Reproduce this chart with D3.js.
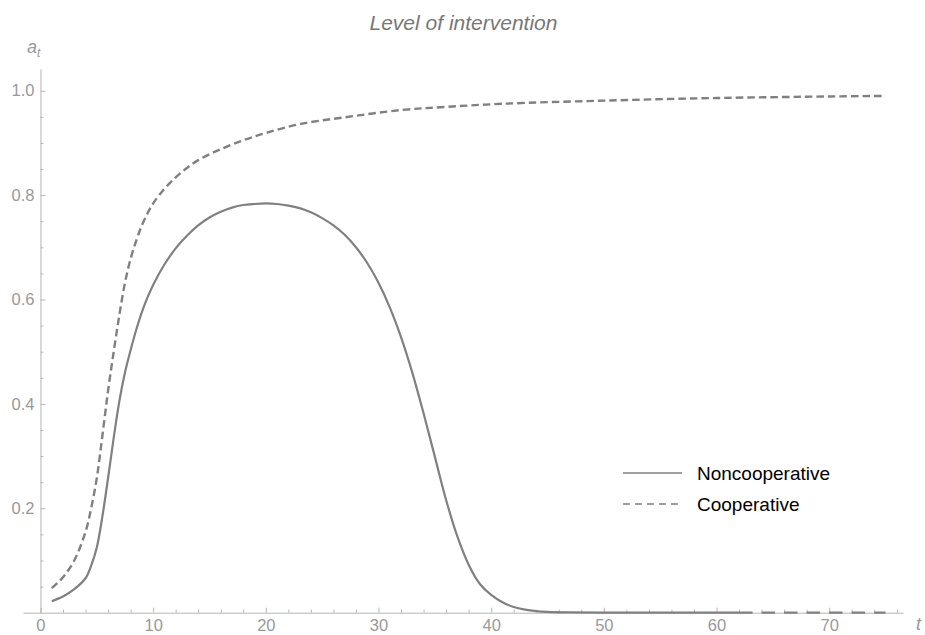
<!DOCTYPE html>
<html>
<head>
<meta charset="utf-8">
<script src="https://cdn.jsdelivr.net/npm/d3@7"></script>
<style>
  body { margin: 0; background: #fff; }
  svg { display: block; font-family: "Liberation Sans", Arial, sans-serif; }
</style>
</head>
<body>
<script>
// values
var tNon = [1, 2, 3, 4, 4.5, 5, 5.5, 6, 6.5, 7, 7.5, 8, 8.5, 9, 9.5, 10, 11, 12, 13, 14, 15, 16, 17, 18, 19, 20, 21, 22, 23, 24, 25, 26, 27, 28, 29, 30, 31, 32, 33, 34, 35, 36, 37, 38, 39, 40, 41, 42, 43, 44, 45, 47, 50, 55, 62];
var aNon = [0.022, 0.031, 0.045, 0.066, 0.09, 0.125, 0.185, 0.258, 0.335, 0.405, 0.46, 0.503, 0.542, 0.576, 0.604, 0.628, 0.667, 0.698, 0.722, 0.742, 0.757, 0.768, 0.776, 0.781, 0.783, 0.784, 0.783, 0.780, 0.775, 0.767, 0.756, 0.742, 0.724, 0.70, 0.67, 0.632, 0.585, 0.528, 0.46, 0.382, 0.299, 0.216, 0.146, 0.092, 0.055, 0.034, 0.02, 0.011, 0.006, 0.003, 0.0015, 0.0005, 0, 0, 0];
// the flat bit after t = 62 is drawn dashed in the source
var tNonTail = [62, 75];
var aNonTail = [0, 0];

var tCoop = [1, 2, 3, 4, 4.5, 5, 5.5, 6, 6.5, 7, 7.5, 8, 8.5, 9, 9.5, 10, 11, 12, 13, 14, 16, 18, 20, 23, 27, 32, 36, 41, 50, 60, 70, 75];
var aCoop = [0.047, 0.068, 0.10, 0.155, 0.2, 0.258, 0.34, 0.425, 0.50, 0.57, 0.632, 0.678, 0.713, 0.742, 0.765, 0.784, 0.812, 0.834, 0.852, 0.867, 0.888, 0.905, 0.919, 0.936, 0.949, 0.963, 0.969, 0.975, 0.981, 0.986, 0.989, 0.990];

var xMajor = [0, 10, 20, 30, 40, 50, 60, 70];
var yMajor = [0.2, 0.4, 0.6, 0.8, 1.0];
var legendNames = ["Noncooperative", "Cooperative"];

var width = 925, height = 635;
var lineColor = "#808080", axisColor = "#b5b5b5", labelColor = "#999999";

var svg = d3.select("body").append("svg")
  .attr("width", width)
  .attr("height", height);

var x = d3.scaleLinear().domain([-1.55, 76.55]).range([23, 903]);
var y = d3.scaleLinear().domain([0, 1.0416]).range([612.7, 69]);

// minor ticks first, then the major axis on top
var xMinor = d3.range(0, 77, 2).filter(d => d % 10 !== 0);
var yMinor = d3.range(1, 21).map(d => d * 0.05).filter(d => Math.round(d * 100) % 20 !== 0);

svg.append("g")
  .attr("transform", `translate(0,${y(0)})`)
  .call(d3.axisBottom(x).tickValues(xMinor).tickSize(-3).tickSizeOuter(0).tickFormat(""))
  .call(g => g.select(".domain").remove());

svg.append("g")
  .attr("transform", `translate(${x(0)},0)`)
  .call(d3.axisLeft(y).tickValues(yMinor).tickSize(-3).tickSizeOuter(0).tickFormat(""))
  .call(g => g.select(".domain").remove());

var xAxis = svg.append("g")
  .attr("transform", `translate(0,${y(0)})`)
  .call(d3.axisBottom(x).tickValues(xMajor).tickSize(-5).tickSizeOuter(0).tickPadding(7));

var yAxis = svg.append("g")
  .attr("transform", `translate(${x(0)},0)`)
  .call(d3.axisLeft(y).tickValues(yMajor).tickSize(-5).tickSizeOuter(0).tickPadding(6).tickFormat(d3.format(".1f")));

svg.selectAll(".domain, .tick line").attr("stroke", axisColor).attr("stroke-width", 1);
svg.selectAll(".tick text")
  .attr("fill", labelColor)
  .style("font-size", "16.5px")
  .style("font-family", "Liberation Sans, Arial, sans-serif");

// curves
var line = d3.line()
  .x(d => x(d[0]))
  .y(d => y(d[1]))
  .curve(d3.curveCatmullRom.alpha(0.5));

svg.append("path")
  .datum(d3.zip(tNon, aNon))
  .attr("fill", "none")
  .attr("stroke", lineColor)
  .attr("stroke-width", 2.2)
  .attr("d", line);

svg.append("path")
  .datum(d3.zip(tNonTail, aNonTail))
  .attr("fill", "none")
  .attr("stroke", lineColor)
  .attr("stroke-width", 2.2)
  .attr("stroke-dasharray", "13.5,9")
  .attr("d", line);

svg.append("path")
  .datum(d3.zip(tCoop, aCoop))
  .attr("fill", "none")
  .attr("stroke", lineColor)
  .attr("stroke-width", 2.4)
  .attr("stroke-dasharray", "7.5,4")
  .attr("d", line);

// title and axis labels
svg.append("text")
  .attr("x", 463.5)
  .attr("y", 30)
  .attr("text-anchor", "middle")
  .attr("fill", "#777777")
  .style("font-size", "21px")
  .style("font-style", "italic")
  .text("Level of intervention");

var aLabel = svg.append("text")
  .attr("x", 27)
  .attr("y", 53)
  .attr("fill", labelColor)
  .style("font-size", "18px")
  .style("font-style", "italic");
aLabel.append("tspan").text("a");
aLabel.append("tspan").attr("dy", 4).style("font-size", "12px").text("t");

svg.append("text")
  .attr("x", 916)
  .attr("y", 630)
  .attr("fill", labelColor)
  .style("font-size", "18px")
  .style("font-style", "italic")
  .text("t");

// legend
var legend = svg.append("g").attr("transform", "translate(623,473)");
legend.selectAll("line")
  .data(legendNames)
  .join("line")
  .attr("x1", 0).attr("x2", 59)
  .attr("y1", (d, i) => i * 31).attr("y2", (d, i) => i * 31)
  .attr("stroke", lineColor)
  .attr("stroke-width", 1.4)
  .attr("stroke-dasharray", (d, i) => i === 1 ? "7,5" : null);

legend.selectAll("text")
  .data(legendNames)
  .join("text")
  .attr("x", 74)
  .attr("y", (d, i) => i * 31)
  .attr("dy", "0.35em")
  .attr("fill", "#000")
  .style("font-size", "19px")
  .text(d => d);
</script>
</body>
</html>
